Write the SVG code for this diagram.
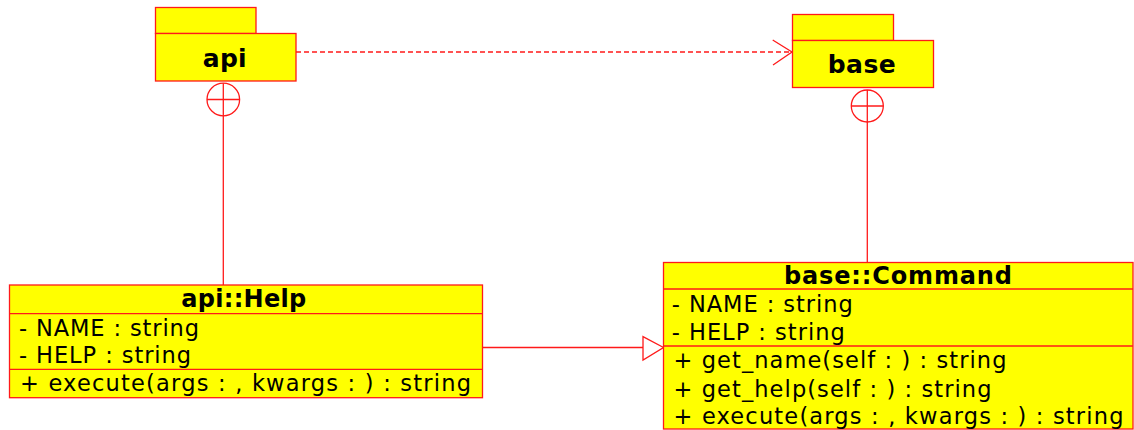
<svg xmlns="http://www.w3.org/2000/svg" width="1134" height="430" viewBox="0 0 1134 430">
  <style>
    .box{fill:#ffff00;stroke:#ff1a1a;stroke-width:1.3}
    .ln{stroke:#ff1a1a;stroke-width:1.3;fill:none}
    .t{font-family:"DejaVu Sans","Noto Sans",sans-serif;font-size:22.5px;fill:#000}
    .ttl{font-family:"DejaVu Sans","Noto Sans",sans-serif;font-size:24px;font-weight:bold;fill:#000;text-anchor:middle}
    .pk{font-family:"DejaVu Sans","Noto Sans",sans-serif;font-size:25px;font-weight:bold;fill:#000;text-anchor:middle}
  </style>
  <rect width="1134" height="430" fill="#ffffff"/>

  <!-- connectors -->
  <g id="connectors">
    <!-- api depends on base -->
    <line class="ln" x1="296" y1="52" x2="792" y2="52" stroke-dasharray="5,3"/>
    <polyline class="ln" points="772.7,40 792,52 773,65"/>
    <!-- api contains api::Help -->
    <circle class="ln" cx="223.3" cy="99.5" r="16.3"/>
    <line class="ln" x1="207" y1="99.5" x2="239.6" y2="99.5"/>
    <line class="ln" x1="223.3" y1="83.2" x2="223.3" y2="285"/>
    <!-- base contains base::Command -->
    <circle class="ln" cx="867.3" cy="106" r="16"/>
    <line class="ln" x1="851.3" y1="106" x2="883.3" y2="106"/>
    <line class="ln" x1="867.3" y1="90" x2="867.3" y2="262.5"/>
    <!-- api::Help generalizes base::Command -->
    <line class="ln" x1="482.5" y1="347.5" x2="643" y2="347.5"/>
    <polygon class="ln" points="643,336.7 663.5,347.5 643,360" style="fill:#ffffff"/>
  </g>

  <!-- package api -->
  <g id="pkg-api">
    <rect class="box" x="155.5" y="7.5" width="100.5" height="26"/>
    <rect class="box" x="155.5" y="33.5" width="140.5" height="47.5"/>
    <text class="pk" x="224.7" y="67" textLength="44" lengthAdjust="spacing">api</text>
  </g>

  <!-- package base -->
  <g id="pkg-base">
    <rect class="box" x="792.5" y="14.5" width="101" height="26"/>
    <rect class="box" x="792.5" y="40.5" width="141" height="47"/>
    <text class="pk" x="861.7" y="73" textLength="68" lengthAdjust="spacing">base</text>
  </g>

  <!-- class api::Help -->
  <g id="cls-help">
    <rect class="box" x="9.5" y="285" width="473" height="112.7"/>
    <line class="ln" x1="9.5" y1="313.7" x2="482.5" y2="313.7"/>
    <line class="ln" x1="9.5" y1="369.3" x2="482.5" y2="369.3"/>
    <text class="ttl" x="243.8" y="307" textLength="125" lengthAdjust="spacing">api::Help</text>
    <text class="t" x="19" y="335.5" textLength="180" lengthAdjust="spacing">- NAME : string</text>
    <text class="t" x="19" y="362.5" textLength="172" lengthAdjust="spacing">- HELP : string</text>
    <text class="t" x="20" y="390.5" textLength="451" lengthAdjust="spacing">+ execute(args : , kwargs : ) : string</text>
  </g>

  <!-- class base::Command -->
  <g id="cls-command">
    <rect class="box" x="663.5" y="262.5" width="469.5" height="166.5"/>
    <line class="ln" x1="663.5" y1="289" x2="1133" y2="289"/>
    <line class="ln" x1="663.5" y1="346" x2="1133" y2="346"/>
    <text class="ttl" x="898" y="283.5" textLength="228" lengthAdjust="spacing">base::Command</text>
    <text class="t" x="671.7" y="311.7" textLength="181" lengthAdjust="spacing">- NAME : string</text>
    <text class="t" x="671.7" y="340" textLength="173" lengthAdjust="spacing">- HELP : string</text>
    <text class="t" x="673.5" y="368.3" textLength="333" lengthAdjust="spacing">+ get_name(self : ) : string</text>
    <text class="t" x="673.5" y="396.7" textLength="318" lengthAdjust="spacing">+ get_help(self : ) : string</text>
    <text class="t" x="673.5" y="424" textLength="450" lengthAdjust="spacing">+ execute(args : , kwargs : ) : string</text>
  </g>
</svg>
